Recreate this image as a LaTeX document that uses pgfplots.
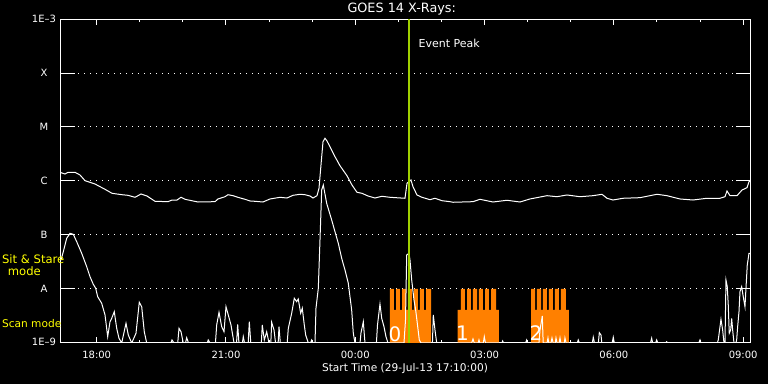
\documentclass[border=0pt]{standalone}
\usepackage{pgfplots}
\pgfplotsset{compat=1.18}
\usepackage{fontspec}
\setmainfont{DejaVu Sans}
\definecolor{scanor}{RGB}{255,128,0}
\definecolor{peakgr}{RGB}{160,208,0}
\definecolor{modey}{RGB}{255,255,0}
\begin{document}
\begin{tikzpicture}[x=1pt,y=1pt]
\fill[black] (0,0) rectangle (384,192);
\path[use as bounding box] (0,0) rectangle (384,192);
\pgfplotsset{
  base/.style={at={(30.25pt,20.5pt)}, anchor=south west, scale only axis,
    width=345pt, height=162pt, xmin=17.160, xmax=33.170, ymin=-9, ymax=-3,
    axis line style={white, line width=0.5pt},
    tick style={white, line width=0.5pt},
    ticklabel style={white, font=\fontsize{5}{6}\selectfont},
    /pgf/number format/assume math mode=true, no markers}
}
% y axis: levels, labels, dotted grid
\begin{axis}[base, xtick=\empty,
  ytick={-9,-8,-7,-6,-5,-4,-3},
  yticklabels={\raisebox{1pt}{1E--9},A,B,C,M,X,\raisebox{-2pt}{1E--3}},
  ytick pos=both, yticklabel pos=left, major tick length=7pt,
  ymajorgrids, grid style={white, line width=0.5pt, dash pattern=on 0.5pt off 2.5pt},
  yticklabel style={anchor=center, xshift=-8.25pt}]
\end{axis}
% x axis and data
\begin{axis}[base, ytick=\empty,
  xtick={18,21,24,27,30,33},
  xticklabels={18:00,21:00,00:00,03:00,06:00,09:00},
  minor xtick={19,20,22,23,25,26,28,29,31,32},
  xtick pos=both, xticklabel pos=left,
  major tick length=3pt, minor tick length=1.5pt,
  xticklabel style={anchor=center, yshift=-6pt}]
% observation mode bars
\addplot[draw=none, fill=scanor] coordinates {(24.805,-9) (24.805,-8) (24.898,-8) (24.898,-8.389) (24.945,-8.389) (24.945,-8) (25.037,-8) (25.037,-8.389) (25.084,-8.389) (25.084,-8) (25.177,-8) (25.177,-8.389) (25.223,-8.389) (25.223,-8) (25.316,-8) (25.316,-8.389) (25.362,-8.389) (25.362,-8) (25.455,-8) (25.455,-8.389) (25.501,-8.389) (25.501,-8) (25.594,-8) (25.594,-8.389) (25.641,-8.389) (25.641,-8) (25.757,-8) (25.757,-9)};
\addplot[draw=none, fill=scanor] coordinates {(26.376,-9) (26.376,-8.389) (26.452,-8.389) (26.452,-8) (26.545,-8) (26.545,-8.389) (26.592,-8.389) (26.592,-8) (26.684,-8) (26.684,-8.389) (26.731,-8.389) (26.731,-8) (26.824,-8) (26.824,-8.389) (26.870,-8.389) (26.870,-8) (26.963,-8) (26.963,-8.389) (27.010,-8.389) (27.010,-8) (27.102,-8) (27.102,-8.389) (27.149,-8.389) (27.149,-8) (27.265,-8) (27.265,-8.389) (27.334,-8.389) (27.334,-9)};
\addplot[draw=none, fill=scanor] coordinates {(28.077,-9) (28.077,-8) (28.170,-8) (28.170,-8.389) (28.216,-8.389) (28.216,-8) (28.309,-8) (28.309,-8.389) (28.355,-8.389) (28.355,-8) (28.448,-8) (28.448,-8.389) (28.494,-8.389) (28.494,-8) (28.587,-8) (28.587,-8.389) (28.633,-8.389) (28.633,-8) (28.726,-8) (28.726,-8.389) (28.773,-8.389) (28.773,-8) (28.889,-8) (28.889,-8.389) (28.958,-8.389) (28.958,-9)};
% long channel (1-8 A)
\addplot[white, line width=0.5pt] coordinates {
(17.172,-5.846) (17.264,-5.870) (17.334,-5.839) (17.497,-5.839) (17.613,-5.889) (17.729,-5.994) (17.961,-6.056) (18.193,-6.154) (18.355,-6.228) (18.587,-6.254) (18.726,-6.265) (18.889,-6.302) (19.028,-6.241) (19.167,-6.278) (19.353,-6.376) (19.654,-6.383) (19.747,-6.352) (19.863,-6.352) (19.956,-6.302) (20.049,-6.339) (20.350,-6.389) (20.745,-6.383) (20.814,-6.333) (20.977,-6.291) (21.046,-6.254) (21.162,-6.272) (21.278,-6.302) (21.441,-6.339) (21.557,-6.370) (21.673,-6.376) (21.859,-6.389) (22.021,-6.333) (22.253,-6.302) (22.415,-6.315) (22.555,-6.265) (22.717,-6.246) (22.833,-6.254) (22.949,-6.278) (23.019,-6.315) (23.111,-6.272) (23.158,-6.135) (23.204,-5.704) (23.251,-5.272) (23.297,-5.209) (23.344,-5.259) (23.413,-5.365) (23.529,-5.550) (23.645,-5.717) (23.807,-5.902) (23.923,-6.074) (24.039,-6.209) (24.155,-6.228) (24.295,-6.278) (24.457,-6.315) (24.619,-6.283) (24.805,-6.302) (25.153,-6.320) (25.200,-6.043) (25.292,-5.981) (25.339,-6.106) (25.432,-6.259) (25.548,-6.302) (25.733,-6.346) (25.849,-6.320) (26.012,-6.365) (26.197,-6.383) (26.267,-6.394) (26.731,-6.383) (26.893,-6.339) (27.195,-6.389) (27.520,-6.357) (27.821,-6.389) (28.053,-6.333) (28.448,-6.272) (28.680,-6.291) (28.912,-6.259) (29.213,-6.291) (29.515,-6.272) (29.724,-6.246) (29.840,-6.320) (29.979,-6.352) (30.211,-6.320) (30.605,-6.309) (31.000,-6.246) (31.232,-6.272) (31.534,-6.333) (31.835,-6.352) (32.160,-6.320) (32.462,-6.320) (32.578,-6.291) (32.625,-6.185) (32.694,-6.272) (32.857,-6.272) (32.973,-6.167) (33.089,-6.124) (33.135,-6.013) (33.165,-6.000)};
% short channel (0.5-4 A)
\addplot[white, line width=0.5pt] coordinates {
(17.172,-7.463) (17.225,-7.309) (17.304,-7.061) (17.381,-6.969) (17.457,-6.987) (17.536,-7.124) (17.652,-7.339) (17.768,-7.587) (17.845,-7.772) (17.921,-7.913) (17.977,-7.987) (18.023,-8.143) (18.116,-8.265) (18.193,-8.481) (18.255,-8.883) (18.309,-8.606) (18.348,-8.543) (18.408,-8.420) (18.464,-8.728) (18.517,-8.913) (18.580,-9) (18.680,-8.635) (18.733,-8.852) (18.812,-9) (18.912,-8.820) (18.988,-8.246) (19.044,-8.328) (19.104,-8.791) (19.160,-9) (19.720,-9) (19.747,-8.944) (19.794,-9) (19.880,-9) (19.910,-8.728) (19.956,-8.791) (20.009,-9) (20.060,-9) (20.088,-8.902) (20.130,-9) (20.565,-9) (20.589,-8.944) (20.629,-9) (20.755,-9) (20.784,-8.667) (20.838,-8.431) (20.900,-8.698) (20.954,-8.791) (21.000,-8.328) (21.053,-8.481) (21.116,-8.667) (21.186,-9) (21.245,-9) (21.271,-8.654) (21.300,-9) (21.380,-9) (21.401,-8.883) (21.430,-9) (21.515,-9) (21.541,-8.606) (21.575,-9) (21.820,-9) (21.842,-8.667) (21.889,-8.944) (21.944,-8.791) (21.998,-9) (22.040,-9) (22.060,-8.617) (22.114,-8.759) (22.150,-9) (22.210,-9) (22.230,-8.698) (22.260,-9) (22.420,-9) (22.446,-8.728) (22.524,-8.450) (22.585,-8.172) (22.640,-8.235) (22.677,-8.185) (22.733,-8.450) (22.770,-8.357) (22.817,-8.667) (22.849,-8.852) (22.910,-9) (22.960,-9) (22.988,-8.944) (23.020,-9) (23.065,-9) (23.088,-8.357) (23.142,-7.987) (23.197,-6.722) (23.220,-6.167) (23.258,-6.074) (23.336,-6.413) (23.452,-6.722) (23.529,-6.939) (23.606,-7.154) (23.684,-7.431) (23.761,-7.648) (23.838,-7.894) (23.877,-8.143) (23.916,-8.389) (23.954,-8.820) (23.993,-9) (24.110,-9) (24.132,-8.815) (24.186,-8.606) (24.225,-9) (24.490,-9) (24.515,-8.667) (24.573,-8.278) (24.613,-8.543) (24.666,-8.698) (24.712,-8.883) (24.759,-9) (25.130,-9) (25.165,-8.574) (25.193,-7.370) (25.246,-7.339) (25.269,-7.463) (25.309,-7.833) (25.362,-8.204) (25.401,-8.389) (25.439,-8.635) (25.485,-8.944) (25.524,-9) (25.790,-9) (25.810,-8.481) (25.849,-8.759) (25.889,-9) (26.700,-9) (26.731,-8.926) (26.760,-9) (26.850,-9) (26.870,-8.944) (26.890,-9) (26.970,-9) (26.993,-8.883) (27.020,-9) (27.400,-9) (27.420,-8.963) (27.440,-9) (27.950,-9) (27.977,-8.944) (28.000,-9) (28.262,-9) (28.286,-8.759) (28.339,-8.500) (28.360,-9) (28.450,-9) (28.471,-8.907) (28.490,-9) (28.540,-9) (28.564,-8.907) (28.590,-9) (28.640,-9) (28.657,-8.907) (28.680,-9) (28.730,-9) (28.750,-8.907) (28.770,-9) (28.850,-9) (28.865,-8.907) (28.890,-9) (29.150,-9) (29.174,-8.944) (29.200,-9) (29.500,-9) (29.522,-8.894) (29.550,-9) (29.640,-9) (29.662,-8.809) (29.701,-8.852) (29.720,-9) (29.960,-9) (29.986,-8.894) (30.010,-9) (30.850,-9) (30.877,-8.913) (30.900,-9) (30.970,-9) (30.993,-8.944) (31.020,-9) (31.200,-9) (31.225,-8.976) (31.250,-9) (31.970,-9) (31.998,-8.944) (32.020,-9) (32.400,-9) (32.422,-8.944) (32.485,-8.561) (32.524,-8.759) (32.555,-9) (32.578,-9) (32.601,-7.833) (32.631,-7.957) (32.654,-8.296) (32.677,-8.820) (32.710,-8.759) (32.733,-8.543) (32.756,-8.759) (32.787,-9) (32.830,-9) (32.849,-8.944) (32.872,-8.698) (32.903,-8.420) (32.926,-8.050) (32.965,-7.957) (33.002,-8.143) (33.042,-8.328) (33.065,-7.987) (33.095,-7.556) (33.135,-7.339) (33.165,-7.339)};
\node[white, font=\fontsize{10}{12}\selectfont, inner sep=0pt] at (axis cs:24.921,-8.833) {0};
\node[white, font=\fontsize{10}{12}\selectfont, inner sep=0pt] at (axis cs:26.487,-8.815) {1};
\node[white, font=\fontsize{10}{12}\selectfont, inner sep=0pt] at (axis cs:28.193,-8.815) {2};
% event peak
\addplot[peakgr, line width=1.3pt] coordinates {(25.246,-9) (25.246,-3)};
\end{axis}
\node[white, font=\fontsize{6.4}{7}\selectfont] at (200.85,187.25) {GOES 14 X-Rays:};
\node[white, font=\fontsize{5.3}{6}\selectfont] at (202.5,7.5) {Start Time (29-Jul-13 17:10:00)};
\node[white, font=\fontsize{5.5}{6}\selectfont, anchor=west, inner sep=0pt] at (209.15,170.5) {Event Peak};
\node[modey, font=\fontsize{5.8}{7}\selectfont, anchor=west, inner sep=0pt] at (0.85,62.5) {Sit \& Stare};
\node[modey, font=\fontsize{5.8}{7}\selectfont, inner sep=0pt] at (12.2,56.5) {mode};
\node[modey, font=\fontsize{5.3}{7}\selectfont, anchor=west, inner sep=0pt] at (0.85,30.15) {Scan mode};
\end{tikzpicture}
\end{document}
